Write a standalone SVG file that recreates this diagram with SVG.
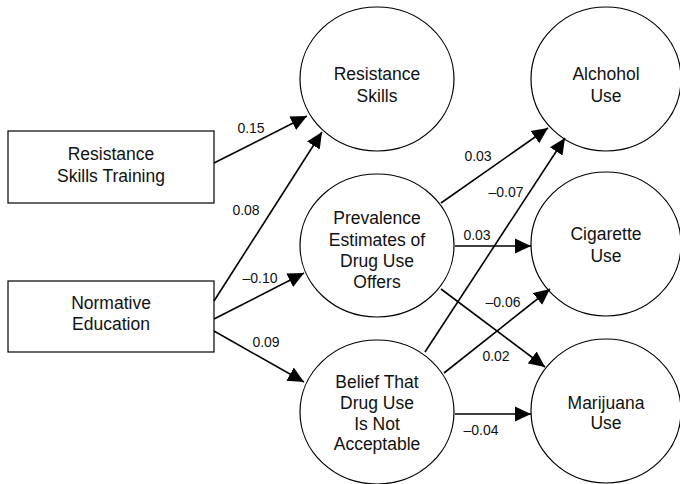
<svg xmlns="http://www.w3.org/2000/svg" width="680" height="484" viewBox="0 0 680 484">
<style>
.node{fill:#fff;stroke:#000;stroke-width:1.2}
.t{font-family:"Liberation Sans",Arial,sans-serif;font-size:17.5px;text-anchor:middle;fill:#111}
.l{font-family:"Liberation Sans",Arial,sans-serif;font-size:14px;text-anchor:middle;fill:#111}
.e{stroke:#000;stroke-width:1.6;fill:none;marker-end:url(#ah)}
</style>
<defs>
<marker id="ah" markerUnits="userSpaceOnUse" markerWidth="16" markerHeight="16" refX="16" refY="8" orient="auto" viewBox="0 0 16 16">
<path d="M0,0.5 L16,8 L0,15.5 z" fill="#000"/>
</marker>
</defs>
<rect width="680" height="484" fill="#fff"/>
<g id="n-rst"><rect class="node" x="8" y="131" width="206" height="72"/><text class="t" x="111" y="160">Resistance</text><text class="t" x="111" y="182">Skills Training</text></g>
<g id="n-ne"><rect class="node" x="8" y="281" width="206" height="71"/><text class="t" x="111" y="309">Normative</text><text class="t" x="111" y="330">Education</text></g>
<g id="n-rs"><ellipse class="node" cx="377" cy="79" rx="77" ry="72"/><text class="t" x="377" y="80">Resistance</text><text class="t" x="377" y="102">Skills</text></g>
<g id="n-pe"><ellipse class="node" cx="377" cy="245.5" rx="77" ry="71.5"/><text class="t" x="377" y="224">Prevalence</text><text class="t" x="377" y="245.5">Estimates of</text><text class="t" x="377" y="267">Drug Use</text><text class="t" x="377" y="288">Offers</text></g>
<g id="n-bf"><ellipse class="node" cx="377" cy="412" rx="77" ry="72"/><text class="t" x="377" y="388">Belief That</text><text class="t" x="377" y="409">Drug Use</text><text class="t" x="377" y="429.5">Is Not</text><text class="t" x="377" y="450">Acceptable</text></g>
<g id="n-al"><ellipse class="node" cx="606" cy="79" rx="75" ry="72"/><text class="t" x="606" y="80">Alchohol</text><text class="t" x="606" y="102">Use</text></g>
<g id="n-cg"><ellipse class="node" cx="606" cy="244" rx="75" ry="72"/><text class="t" x="606" y="240">Cigarette</text><text class="t" x="606" y="262">Use</text></g>
<g id="n-mj"><ellipse class="node" cx="606" cy="411" rx="75" ry="72"/><text class="t" x="606" y="409">Marijuana</text><text class="t" x="606" y="429">Use</text></g>
<g id="edges">
<line class="e" x1="214" y1="163" x2="307" y2="116"/>
<line class="e" x1="214" y1="301" x2="322" y2="132"/>
<line class="e" x1="214" y1="319" x2="304" y2="273"/>
<line class="e" x1="214" y1="331" x2="304" y2="382"/>
<line class="e" x1="441" y1="203" x2="548" y2="128"/>
<line class="e" x1="425" y1="352" x2="565" y2="138"/>
<line class="e" x1="455" y1="246" x2="531" y2="246"/>
<line class="e" x1="441" y1="289" x2="545" y2="367"/>
<line class="e" x1="444" y1="373" x2="550" y2="289"/>
<line class="e" x1="455" y1="414" x2="531" y2="414"/>
</g>
<g id="labels">
<text class="l" x="251" y="133">0.15</text>
<text class="l" x="246" y="215">0.08</text>
<text class="l" x="260" y="283">–0.10</text>
<text class="l" x="266" y="347">0.09</text>
<text class="l" x="478" y="161">0.03</text>
<text class="l" x="506" y="197">–0.07</text>
<text class="l" x="477" y="240">0.03</text>
<text class="l" x="503" y="307">–0.06</text>
<text class="l" x="496" y="361">0.02</text>
<text class="l" x="481" y="435">–0.04</text>
</g>
</svg>
